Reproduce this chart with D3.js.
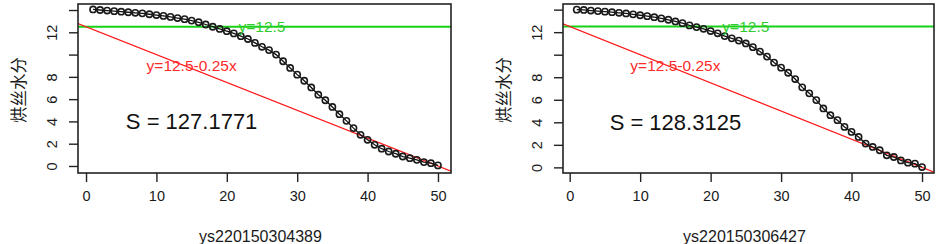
<!DOCTYPE html>
<html>
<head>
<meta charset="utf-8">
<script src="https://cdn.jsdelivr.net/npm/d3@7"></script>
<style>
  body { margin: 0; background: #fff; }
  svg { display: block; font-family: "Liberation Sans", Arial, sans-serif; }
</style>
</head>
<body>
<div id="chart"></div>
<script>
// ---- data ----
var xIndex = d3.range(1, 51);   // sample number 1..50

var moistureA = [14.05, 14.0, 13.95, 13.9, 13.85, 13.8, 13.75, 13.7, 13.62, 13.55,
  13.47, 13.38, 13.28, 13.18, 13.05, 12.9, 12.7, 12.5, 12.3, 12.1,
  11.9, 11.65, 11.4, 11.05, 10.7, 10.4, 10.0, 9.4, 8.8, 8.2,
  7.65, 7.05, 6.4, 5.9, 5.3, 4.65, 4.05, 3.4, 2.8, 2.35,
  1.9, 1.55, 1.3, 1.1, 0.85, 0.7, 0.55, 0.35, 0.25, 0.05];

var moistureB = [14.0, 13.97, 13.92, 13.87, 13.82, 13.77, 13.72, 13.66, 13.58, 13.5,
  13.42, 13.33, 13.22, 13.1, 12.95, 12.8, 12.6, 12.45, 12.3, 12.1,
  11.9, 11.65, 11.45, 11.25, 11.0, 10.67, 10.28, 9.83, 9.3, 8.85,
  8.4, 7.84, 7.1, 6.57, 5.97, 5.23, 4.63, 4.19, 3.59, 3.15,
  2.7, 2.11, 1.81, 1.52, 1.07, 0.92, 0.62, 0.42, 0.33, 0.03];

var sampleNames = ["ys220150304389", "ys220150306427"];
var areaValues = ["127.1771", "128.3125"];

var xTicks = [0, 10, 20, 30, 40, 50];
var yTicks = [0, 2, 4, 6, 8, 10, 12, 14];
var yTickLabels = [0, 2, 4, 6, 8, 12];   // R drops 10 and 14 (overlap)

var refLevel = 12.5, refSlope = -0.25;

// ---- layout ----
var width = 937, height = 244;

var svg = d3.select("#chart")
  .append("svg")
  .attr("width", width)
  .attr("height", height);

var panels = [
  { series: moistureA, name: sampleNames[0], S: areaValues[0],
    left: 78, right: 451, top: 4, bottom: 173,
    xdom: [-1.14, 51.85], ydom: [-0.63, 14.54] },
  { series: moistureB, name: sampleNames[1], S: areaValues[1],
    left: 563, right: 934, top: 4, bottom: 173,
    xdom: [-0.95, 51.7], ydom: [-0.5, 14.5] }
];

panels.forEach(function(p, k) {
  var x = d3.scaleLinear().domain(p.xdom).range([p.left, p.right]);
  var y = d3.scaleLinear().domain(p.ydom).range([p.bottom, p.top]);

  var g = svg.append("g");

  g.append("clipPath").attr("id", "clip" + k)
    .append("rect")
    .attr("x", p.left).attr("y", p.top)
    .attr("width", p.right - p.left).attr("height", p.bottom - p.top);

  var plot = g.append("g").attr("clip-path", "url(#clip" + k + ")");

  // green horizontal line y = 12.5
  plot.append("line")
    .attr("x1", p.left).attr("x2", p.right)
    .attr("y1", y(refLevel)).attr("y2", y(refLevel))
    .attr("stroke", "#17d117").attr("stroke-width", 2);

  // red line y = 12.5 - 0.25x
  plot.append("line")
    .attr("x1", x(p.xdom[0])).attr("y1", y(refLevel + refSlope * p.xdom[0]))
    .attr("x2", x(p.xdom[1])).attr("y2", y(refLevel + refSlope * p.xdom[1]))
    .attr("stroke", "#ff1a1a").attr("stroke-width", 1.2);

  // type = "o": line through the points
  var pts = xIndex.map(function(d, i) { return [d, p.series[i]]; });
  plot.append("path")
    .datum(pts)
    .attr("fill", "none")
    .attr("stroke", "#111")
    .attr("stroke-width", 1.3)
    .attr("d", d3.line().x(function(d) { return x(d[0]); }).y(function(d) { return y(d[1]); }));

  plot.selectAll("circle.pt")
    .data(pts)
    .enter().append("circle")
    .attr("class", "pt")
    .attr("cx", function(d) { return x(d[0]); })
    .attr("cy", function(d) { return y(d[1]); })
    .attr("r", 3.1)
    .attr("fill", "none")
    .attr("stroke", "#1a1a1a")
    .attr("stroke-width", 1.6);

  // annotations
  g.append("text")
    .attr("x", x(25)).attr("y", y(12.5))
    .attr("dy", "0.35em")
    .attr("text-anchor", "middle")
    .attr("fill", "#2ecc2e")
    .style("font-size", "15.5px")
    .text("y=12.5");

  g.append("text")
    .attr("x", x(15)).attr("y", y(9))
    .attr("dy", "0.35em")
    .attr("text-anchor", "middle")
    .attr("fill", "#ff2a2a")
    .style("font-size", "15.5px")
    .text("y=12.5-0.25x");

  g.append("text")
    .attr("x", x(15)).attr("y", y(4))
    .attr("dy", "0.35em")
    .attr("text-anchor", "middle")
    .attr("fill", "#111")
    .style("font-size", "22px")
    .text("S = " + p.S);

  // box
  g.append("rect")
    .attr("x", p.left).attr("y", p.top)
    .attr("width", p.right - p.left).attr("height", p.bottom - p.top)
    .attr("fill", "none")
    .attr("stroke", "#222")
    .attr("stroke-width", 1.6);

  // x axis
  var xAxis = g.append("g")
    .attr("transform", "translate(0," + p.bottom + ")")
    .call(d3.axisBottom(x).tickValues(xTicks).tickSize(9).tickPadding(9).tickSizeOuter(0));
  xAxis.select(".domain").remove();
  xAxis.selectAll("line").attr("stroke", "#222").attr("stroke-width", 1.4);
  xAxis.selectAll("text")
    .attr("fill", "#1a1a1a")
    .style("font-size", "14.5px")
    .style("font-family", "Liberation Sans, Arial, sans-serif");

  // y axis
  var yAxis = g.append("g")
    .attr("transform", "translate(" + p.left + ",0)")
    .call(d3.axisLeft(y).tickValues(yTicks).tickSize(9).tickSizeOuter(0)
      .tickFormat(function(d) { return yTickLabels.indexOf(d) >= 0 ? d : ""; }));
  yAxis.select(".domain").remove();
  yAxis.selectAll("line").attr("stroke", "#222").attr("stroke-width", 1.4);
  yAxis.selectAll("text")
    .attr("fill", "#1a1a1a")
    .attr("x", 0).attr("dy", null)
    .attr("transform", "translate(-26,0) rotate(-90)")
    .attr("text-anchor", "middle")
    .attr("dominant-baseline", "central")
    .style("font-size", "14.5px")
    .style("font-family", "Liberation Sans, Arial, sans-serif");

  // axis titles
  g.append("text")
    .attr("x", (p.left + p.right) / 2 - 4)
    .attr("y", 236)
    .attr("dy", "0.35em")
    .attr("text-anchor", "middle")
    .attr("fill", "#1a1a1a")
    .style("font-size", "16px")
    .text(p.name);

  g.append("text")
    .attr("transform", "translate(" + (p.left - 60) + ",90) rotate(-90)")
    .attr("text-anchor", "middle")
    .attr("dominant-baseline", "central")
    .attr("fill", "#1a1a1a")
    .style("font-size", "16.5px")
    .style("font-family", "Noto Sans CJK SC, sans-serif")
    .text("烘丝水分");
});
</script>
</body>
</html>
